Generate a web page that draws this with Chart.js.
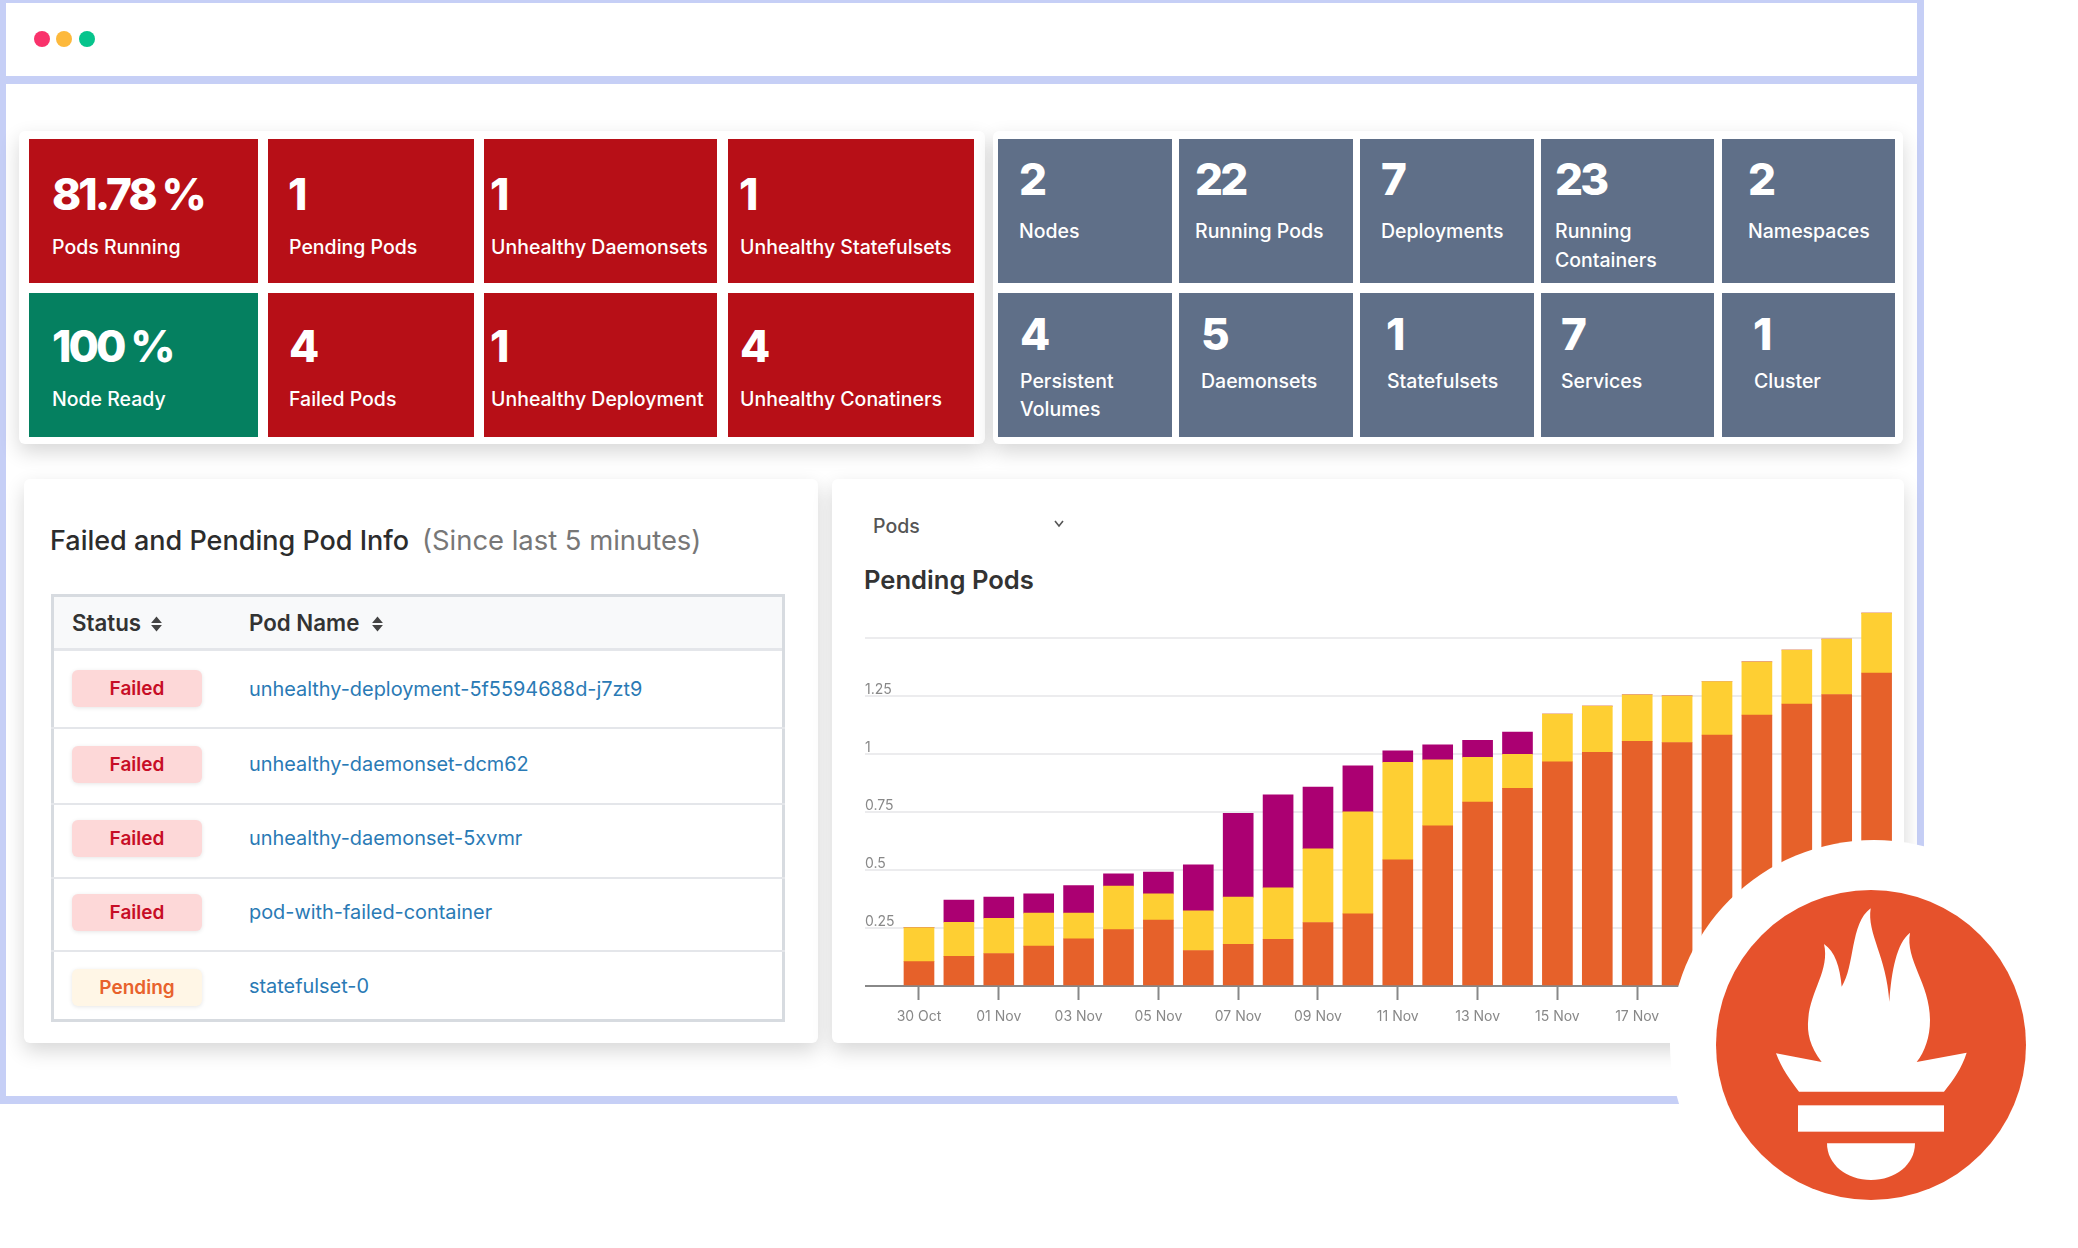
<!DOCTYPE html>
<html>
<head>
<meta charset="utf-8">
<title>Pods dashboard</title>
<script src="https://cdn.jsdelivr.net/npm/chart.js@4/dist/chart.umd.js"></script>
<style>
  html, body { margin: 0; background: #fff; }
  #page { position: relative; width: 2078px; height: 1248px; overflow: hidden; font-family: Inter, sans-serif; background: #fff; }
  #page div { box-sizing: border-box; }
  .abs { position: absolute; }
  .frame { position: absolute; background: #c6cff6; }
  .dot { position: absolute; top: 31px; width: 16px; height: 16px; border-radius: 50%; }
  .card { position: absolute; background: #fff; border-radius: 6px; box-shadow: 0 8px 20px rgba(0,0,0,.16); }
  .red, .green, .slate { position: absolute; height: 144px; }
  .red { background: #b70f17; }
  .green { background: #058060; }
  .slate { background: #5f6f88; }
  .t { position: absolute; white-space: nowrap; transform: translateY(-50%); line-height: 1; }
  .num { color: #fff; font-size: 44px; font-weight: 800; letter-spacing: -2.9px; }
  .lab { color: #fff; font-size: 19.5px; font-weight: 500; transform: translateY(calc(-50% + 1px)); }
  .head { color: #333; font-size: 22.3px; font-weight: 600; }
  .pod { color: #2a7ab5; font-size: 19.9px; }
  .rule { position: absolute; left: 51px; width: 734px; height: 2px; background: #e4e6ea; }
  .badge { position: absolute; left: 72px; width: 130px; height: 37px; border-radius: 6px; background: #fdd8d8; box-shadow: 0 1px 4px rgba(0,0,0,.1);
           color: #c70d26; font-size: 19px; font-weight: 600; text-align: center; line-height: 38px; }
  .badge.pending { background: #fff6e6; color: #e8622c; }
  #chartBox { position: absolute; left: 865px; top: 595px; width: 1027px; height: 440px; }
</style>
</head>
<body>
<div id="page">
  <!-- browser frame -->
  <div class="frame" style="left:0;top:0;width:1924px;height:3px"></div>
  <div class="frame" style="left:0;top:0;width:6px;height:1104px"></div>
  <div class="frame" style="left:1917px;top:0;width:7px;height:1104px"></div>
  <div class="frame" style="left:0;top:76px;width:1924px;height:8px"></div>
  <div class="frame" style="left:0;top:1096px;width:1924px;height:8px"></div>
  <div class="dot" style="left:34px;background:#f9326b"></div>
  <div class="dot" style="left:56px;background:#fdb93c"></div>
  <div class="dot" style="left:79px;background:#06c48c"></div>

  <!-- status tiles -->
  <div class="card" style="left:19px;top:131px;width:966px;height:313px"></div>
  <div class="red" style="left:29px;top:139px;width:229px"></div>
  <div class="red" style="left:268px;top:139px;width:206px"></div>
  <div class="red" style="left:484px;top:139px;width:233px"></div>
  <div class="red" style="left:728px;top:139px;width:246px"></div>
  <div class="green" style="left:29px;top:293px;width:229px"></div>
  <div class="red" style="left:268px;top:293px;width:206px"></div>
  <div class="red" style="left:484px;top:293px;width:233px"></div>
  <div class="red" style="left:728px;top:293px;width:246px"></div>
  <div class="t num" style="left:52px;top:194px">81.78 %</div>
  <div class="t lab" style="left:52px;top:247px">Pods Running</div>
  <div class="t num" style="left:288px;top:194px">1</div>
  <div class="t lab" style="left:289px;top:247px">Pending Pods</div>
  <div class="t num" style="left:490px;top:194px">1</div>
  <div class="t lab" style="left:491px;top:247px">Unhealthy Daemonsets</div>
  <div class="t num" style="left:739px;top:194px">1</div>
  <div class="t lab" style="left:740px;top:247px">Unhealthy Statefulsets</div>
  <div class="t num" style="left:52px;top:346px">100 %</div>
  <div class="t lab" style="left:52px;top:399px">Node Ready</div>
  <div class="t num" style="left:289px;top:346px">4</div>
  <div class="t lab" style="left:289px;top:399px">Failed Pods</div>
  <div class="t num" style="left:490px;top:346px">1</div>
  <div class="t lab" style="left:491px;top:399px">Unhealthy Deployment</div>
  <div class="t num" style="left:740px;top:346px">4</div>
  <div class="t lab" style="left:740px;top:399px">Unhealthy Conatiners</div>

  <!-- count tiles -->
  <div class="card" style="left:993px;top:131px;width:910px;height:313px"></div>
  <div class="slate" style="left:998px;top:139px;width:174px"></div>
  <div class="slate" style="left:1179px;top:139px;width:174px"></div>
  <div class="slate" style="left:1360px;top:139px;width:174px"></div>
  <div class="slate" style="left:1541px;top:139px;width:173px"></div>
  <div class="slate" style="left:1722px;top:139px;width:173px"></div>
  <div class="slate" style="left:998px;top:293px;width:174px"></div>
  <div class="slate" style="left:1179px;top:293px;width:174px"></div>
  <div class="slate" style="left:1360px;top:293px;width:174px"></div>
  <div class="slate" style="left:1541px;top:293px;width:173px"></div>
  <div class="slate" style="left:1722px;top:293px;width:173px"></div>
  <div class="t num" style="left:1019px;top:179px">2</div>
  <div class="t lab" style="left:1019px;top:231px">Nodes</div>
  <div class="t num" style="left:1195px;top:179px">22</div>
  <div class="t lab" style="left:1195px;top:231px">Running Pods</div>
  <div class="t num" style="left:1381px;top:179px">7</div>
  <div class="t lab" style="left:1381px;top:231px">Deployments</div>
  <div class="t num" style="left:1555px;top:179px">23</div>
  <div class="t lab" style="left:1555px;top:231px">Running</div>
  <div class="t lab" style="left:1555px;top:260px">Containers</div>
  <div class="t num" style="left:1748px;top:179px">2</div>
  <div class="t lab" style="left:1748px;top:231px">Namespaces</div>
  <div class="t num" style="left:1020px;top:334px">4</div>
  <div class="t lab" style="left:1020px;top:381px">Persistent</div>
  <div class="t lab" style="left:1020px;top:409px">Volumes</div>
  <div class="t num" style="left:1201px;top:334px">5</div>
  <div class="t lab" style="left:1201px;top:381px">Daemonsets</div>
  <div class="t num" style="left:1386px;top:334px">1</div>
  <div class="t lab" style="left:1387px;top:381px">Statefulsets</div>
  <div class="t num" style="left:1561px;top:334px">7</div>
  <div class="t lab" style="left:1561px;top:381px">Services</div>
  <div class="t num" style="left:1753px;top:334px">1</div>
  <div class="t lab" style="left:1754px;top:381px">Cluster</div>

  <!-- pod table -->
  <div class="card" style="left:24px;top:479px;width:794px;height:564px"></div>
  <div class="t" style="left:50px;top:540px;font-size:27px;font-weight:500;color:#2c2c2c">Failed and Pending Pod Info</div>
  <div class="t" style="left:422px;top:541px;font-size:27.4px;color:#777">(Since last 5 minutes)</div>
  <div class="abs" style="left:51px;top:594px;width:734px;height:428px;border:3px solid #d7dbe0"></div>
  <div class="abs" style="left:54px;top:597px;width:728px;height:54px;background:#f8f9fa;border-bottom:3px solid #e4e6ea"></div>
  <div class="t head" style="left:72px;top:623px">Status</div>
  <svg class="abs" style="left:150px;top:615px" width="13" height="18" viewBox="0 0 12 16"><path d="M6 1 11 7H1ZM6 15 1 9H11Z" fill="#444"/></svg>
  <div class="t head" style="left:249px;top:623px">Pod Name</div>
  <svg class="abs" style="left:371px;top:615px" width="13" height="18" viewBox="0 0 12 16"><path d="M6 1 11 7H1ZM6 15 1 9H11Z" fill="#444"/></svg>
  <div class="rule" style="top:727px"></div>
  <div class="rule" style="top:803px"></div>
  <div class="rule" style="top:877px"></div>
  <div class="rule" style="top:950px"></div>
  <div class="badge" style="top:670px">Failed</div>
  <div class="t pod" style="left:249px;top:690px">unhealthy-deployment-5f5594688d-j7zt9</div>
  <div class="badge" style="top:746px">Failed</div>
  <div class="t pod" style="left:249px;top:765px">unhealthy-daemonset-dcm62</div>
  <div class="badge" style="top:820px">Failed</div>
  <div class="t pod" style="left:249px;top:839px">unhealthy-daemonset-5xvmr</div>
  <div class="badge" style="top:894px">Failed</div>
  <div class="t pod" style="left:249px;top:913px">pod-with-failed-container</div>
  <div class="badge pending" style="top:969px">Pending</div>
  <div class="t pod" style="left:249px;top:987px">statefulset-0</div>

  <!-- chart card -->
  <div class="card" style="left:832px;top:479px;width:1072px;height:564px"></div>
  <div class="t" style="left:873px;top:527px;font-size:19.5px;font-weight:500;color:#555">Pods</div>
  <svg class="abs" style="left:1053px;top:519px" width="12" height="10" viewBox="0 0 12 10"><path d="M2 2 6 7 10 2" fill="none" stroke="#555" stroke-width="1.6"/></svg>
  <div class="t" style="left:864px;top:580px;font-size:25.6px;font-weight:600;color:#333">Pending Pods</div>
  <div id="chartBox"><canvas id="pendingChart"></canvas></div>

  <!-- logo -->
  <svg class="abs" style="left:1600px;top:820px" width="478" height="428" viewBox="0 0 1434 1284">
    <circle cx="822" cy="672" r="612" fill="#fff"/>
    <circle cx="813" cy="675" r="465" fill="#e6522c"/>
    <path fill="#fff" d="M528 700 L665 726 C630 680 620 640 625 595 C632 510 690 450 672 372 C705 395 720 440 725 500 C765 440 750 310 812 265 C800 340 860 410 868 545 C875 450 890 370 930 338 C915 420 990 490 990 600 C990 650 975 695 950 726 L1100 698 C1085 745 1060 780 1032 815 L597 815 C570 780 545 745 528 700 Z"/>
    <rect x="594" y="856" width="438" height="79" fill="#fff"/>
    <path fill="#fff" d="M681 970 L945 970 C945 1035 885 1080 813 1080 C741 1080 681 1035 681 970 Z"/>
  </svg>
</div>

<script>
  // x axis: one bar per day, tick every second day
  const days = ['30 Oct', '31 Oct', '01 Nov', '02 Nov', '03 Nov', '04 Nov', '05 Nov', '06 Nov', '07 Nov',
    '08 Nov', '09 Nov', '10 Nov', '11 Nov', '12 Nov', '13 Nov', '14 Nov', '15 Nov', '16 Nov', '17 Nov',
    '18 Nov', '19 Nov', '20 Nov', '21 Nov', '22 Nov', '23 Nov'];

  const orangeValues = [0.105, 0.128, 0.140, 0.172, 0.203, 0.243, 0.284, 0.153, 0.180, 0.201, 0.274, 0.311, 0.544,
    0.691, 0.793, 0.852, 0.967, 1.008, 1.055, 1.050, 1.082, 1.168, 1.216, 1.257, 1.350];
  const yellowValues = [0.147, 0.147, 0.152, 0.142, 0.112, 0.188, 0.113, 0.171, 0.203, 0.222, 0.318, 0.440, 0.421,
    0.284, 0.193, 0.147, 0.206, 0.199, 0.201, 0.201, 0.231, 0.230, 0.233, 0.239, 0.258];
  const purpleValues = [0, 0.096, 0.091, 0.083, 0.118, 0.053, 0.094, 0.199, 0.362, 0.401, 0.266, 0.199, 0.049,
    0.065, 0.073, 0.096, 0, 0, 0, 0, 0, 0, 0, 0, 0];

  const yTicks = [0, 0.25, 0.5, 0.75, 1, 1.25, 1.5];
  const yTickLabels = ['', '0.25', '0.5', '0.75', '1', '1.25', ''];

  const toPoints = (values) => values.map((y, x) => ({ x, y }));

  function dataset(values, color) {
    return { data: toPoints(values), backgroundColor: color, barThickness: 30 };
  }

  new Chart(document.getElementById('pendingChart'), {
    type: 'bar',
    data: {
      datasets: [
        dataset(orangeValues, '#e6612a'),
        dataset(yellowValues, '#fecf33'),
        dataset(purpleValues, '#ab0072'),
      ],
    },
    options: {
      responsive: true,
      maintainAspectRatio: false,
      animation: false,
      layout: { padding: 0 },
      plugins: { legend: { display: false }, tooltip: { enabled: false } },
      scales: {
        x: {
          type: 'linear',
          stacked: true,
          offset: false,
          min: -1.353,
          max: 24.386,
          afterBuildTicks: (scale) => {
            scale.ticks = days.map((d, i) => ({ value: i })).filter((t) => t.value % 2 === 0);
          },
          afterFit: (scale) => {
            // last tick label sits behind the logo, no room needed for it
            scale.height = 49;
            scale.paddingRight = 0;
          },
          grid: { offset: false, drawOnChartArea: false, tickLength: 14, tickColor: '#888', tickWidth: 2 },
          border: { display: true, color: '#888', width: 2 },
          ticks: {
            autoSkip: false,
            maxRotation: 0,
            color: '#888',
            font: { family: 'Inter', size: 14 },
            padding: 8,
            callback: (value) => days[value],
          },
        },
        y: {
          stacked: true,
          min: 0,
          max: 1.65,
          afterBuildTicks: (scale) => {
            scale.ticks = yTicks.map((value) => ({ value }));
          },
          grid: { color: '#ececee', lineWidth: 2, drawTicks: false },
          border: { display: false },
          ticks: {
            mirror: true,
            padding: 0,
            labelOffset: -6,
            color: '#888',
            font: { family: 'Inter', size: 14 },
            callback: (value) => yTickLabels[yTicks.indexOf(value)],
          },
        },
      },
    },
  });
</script>
</body>
</html>
